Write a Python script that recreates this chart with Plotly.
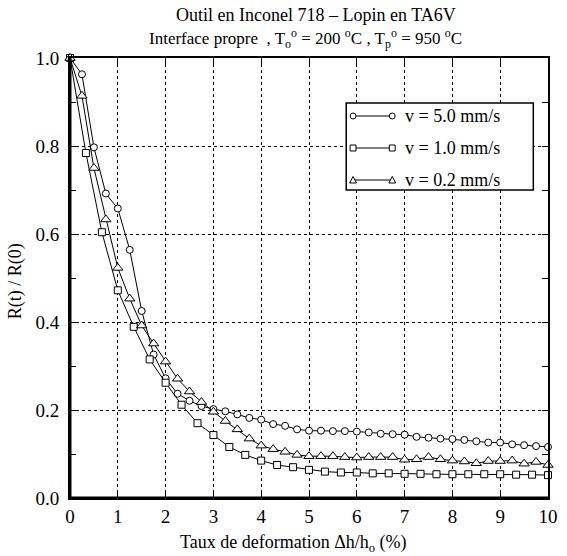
import plotly.graph_objects as go

# ---------------- data ----------------
x_v50 = [0, 0.25, 0.5, 0.75, 1.0, 1.25, 1.5, 1.75, 2.0, 2.25, 2.5, 2.75, 3.0, 3.25, 3.5, 3.75,
         4.0, 4.25, 4.5, 4.75, 5.0, 5.25, 5.5, 5.75, 6.0, 6.25, 6.5, 6.75, 7.0, 7.25, 7.5, 7.75,
         8.0, 8.25, 8.5, 8.75, 9.0, 9.25, 9.5, 9.75, 10.0]
y_v50 = [1.0, 0.963, 0.797, 0.692, 0.658, 0.564, 0.425, 0.326, 0.272, 0.237, 0.221, 0.209,
         0.202, 0.197, 0.190, 0.182, 0.178, 0.168, 0.164, 0.156, 0.153, 0.153, 0.152, 0.152,
         0.151, 0.149, 0.146, 0.145, 0.144, 0.139, 0.137, 0.135, 0.134, 0.132, 0.129, 0.126,
         0.126, 0.122, 0.120, 0.118, 0.116]

x_v10 = [0, 0.333, 0.667, 1.0, 1.333, 1.667, 2.0, 2.333, 2.667, 3.0, 3.333, 3.667, 4.0, 4.333,
         4.667, 5.0, 5.333, 5.667, 6.0, 6.333, 6.667, 7.0, 7.333, 7.667, 8.0, 8.333, 8.667, 9.0,
         9.333, 9.667, 10.0]
y_v10 = [1.0, 0.784, 0.604, 0.472, 0.389, 0.315, 0.262, 0.212, 0.170, 0.143, 0.116, 0.098,
         0.085, 0.075, 0.070, 0.064, 0.060, 0.058, 0.058, 0.056, 0.056, 0.055, 0.055, 0.054,
         0.054, 0.054, 0.054, 0.054, 0.053, 0.053, 0.052]

x_v02 = [0, 0.25, 0.5, 0.75, 1.0, 1.25, 1.5, 1.75, 2.0, 2.25, 2.5, 2.75, 3.0, 3.25, 3.5, 3.75,
         4.0, 4.25, 4.5, 4.75, 5.0, 5.25, 5.5, 5.75, 6.0, 6.25, 6.5, 6.75, 7.0, 7.25, 7.5, 7.75,
         8.0, 8.25, 8.5, 8.75, 9.0, 9.25, 9.5, 9.75, 10.0]
y_v02 = [1.0, 0.914, 0.750, 0.633, 0.523, 0.453, 0.392, 0.351, 0.310, 0.271, 0.242, 0.218,
         0.196, 0.175, 0.156, 0.135, 0.119, 0.111, 0.105, 0.098, 0.095, 0.095, 0.095, 0.093,
         0.092, 0.093, 0.093, 0.093, 0.087, 0.088, 0.093, 0.088, 0.085, 0.083, 0.079, 0.084,
         0.084, 0.085, 0.078, 0.082, 0.075]

series_names = ["v = 5.0 mm/s", "v = 1.0 mm/s", "v = 0.2 mm/s"]
x_ticks = [0, 1, 2, 3, 4, 5, 6, 7, 8, 9, 10]
y_ticks = [0.0, 0.2, 0.4, 0.6, 0.8, 1.0]

title_text = "Outil en Inconel 718 \u2013 Lopin en TA6V"
subtitle_text = ("Interface propre  , T<sub>o</sub><sup>o</sup> = 200 <sup>o</sup>C , "
                 "T<sub>p</sub><sup>o</sup> = 950 <sup>o</sup>C")
x_title = "Taux de deformation \u0394h/h<sub>o</sub> (%)"
y_title = "R(t) / R(0)"

# ---------------- layout geometry ----------------
W, H = 567, 556
L, R, T, B = 70, 9, 58, 58
PW, PH = W - L - R, H - T - B
FONT = "Liberation Serif, Times New Roman, serif"


def px(xpix):
    return (xpix - L) / PW


def py(ypix):
    return (H - B - ypix) / PH


fig = go.Figure()

styles = [
    (x_v50, y_v50, "circle", 7),
    (x_v10, y_v10, "square", 7),
    (x_v02, y_v02, "triangle-up", 9),
]
for (xs, ys, sym, sz), name in zip(styles, series_names):
    fig.add_trace(go.Scatter(
        x=xs, y=ys, mode="lines+markers", name=name, showlegend=False,
        line=dict(color="black", width=1),
        marker=dict(symbol=sym, size=sz, color="white",
                    line=dict(color="black", width=1)),
        cliponaxis=False,
    ))

axis_common = dict(
    showline=True, linecolor="black", linewidth=2, mirror="ticks",
    showgrid=True, gridcolor="black", gridwidth=1, griddash="dot",
    ticks="inside", ticklen=6, tickcolor="black", tickwidth=1,
    tickfont=dict(family=FONT, size=19, color="black"),
    zeroline=False,
)
fig.update_xaxes(range=[0, 10], tickvals=x_ticks, ticklabelstandoff=0, **axis_common)
fig.update_yaxes(range=[0, 1], tickvals=y_ticks, tickformat=".1f", ticklabelstandoff=5,
                 minor=dict(dtick=0.1, ticks="inside", ticklen=6, tickcolor="black",
                            tickwidth=1, showgrid=False),
                 **axis_common)

shapes = []
# thicker left and bottom axes
shapes.append(dict(type="line", xref="paper", yref="paper", x0=0, x1=0, y0=0, y1=1,
                   line=dict(color="black", width=3), layer="above"))
shapes.append(dict(type="line", xref="paper", yref="paper", x0=0, x1=1, y0=0, y1=0,
                   line=dict(color="black", width=3), layer="above"))

# legend box
bx0, bx1, by0, by1 = 352, 543, 103, 190
shapes.append(dict(type="rect", xref="paper", yref="paper",
                   x0=px(bx0), x1=px(bx1), y0=py(by1), y1=py(by0),
                   line=dict(color="black", width=1.5), fillcolor="white", layer="above"))

rows = [116, 148, 180]
lx0, lx1 = 359, 399
annotations = []
for i, (yy, name) in enumerate(zip(rows, series_names)):
    shapes.append(dict(type="line", xref="paper", yref="paper",
                       x0=px(lx0), x1=px(lx1), y0=py(yy), y1=py(yy),
                       line=dict(color="black", width=1), layer="above"))
    for cx in (lx0, lx1):
        if i == 0:
            r = 3
            shapes.append(dict(type="circle", xref="paper", yref="paper",
                               x0=px(cx - r), x1=px(cx + r), y0=py(yy + r), y1=py(yy - r),
                               line=dict(color="black", width=1), fillcolor="white",
                               layer="above"))
        elif i == 1:
            r = 3
            shapes.append(dict(type="rect", xref="paper", yref="paper",
                               x0=px(cx - r), x1=px(cx + r), y0=py(yy + r), y1=py(yy - r),
                               line=dict(color="black", width=1), fillcolor="white",
                               layer="above"))
        else:
            path = "M {:.5f},{:.5f} L {:.5f},{:.5f} L {:.5f},{:.5f} Z".format(
                px(cx - 3.5), py(yy + 3), px(cx + 3.5), py(yy + 3), px(cx), py(yy - 3.5))
            shapes.append(dict(type="path", xref="paper", yref="paper", path=path,
                               line=dict(color="black", width=1), fillcolor="white",
                               layer="above"))
    annotations.append(dict(xref="paper", yref="paper", x=px(410), y=py(yy),
                            text=name, showarrow=False, xanchor="left", yanchor="middle",
                            font=dict(family=FONT, size=18, color="black")))

# titles
annotations.append(dict(xref="paper", yref="paper", x=px(321), y=py(15), text=title_text,
                        showarrow=False, xanchor="center", yanchor="middle",
                        font=dict(family=FONT, size=18, color="black")))
annotations.append(dict(xref="paper", yref="paper", x=px(310), y=py(38), text=subtitle_text,
                        showarrow=False, xanchor="center", yanchor="middle",
                        font=dict(family=FONT, size=17, color="black")))
annotations.append(dict(xref="paper", yref="paper", x=px(298), y=py(543), text=x_title,
                        showarrow=False, xanchor="center", yanchor="middle",
                        font=dict(family=FONT, size=18, color="black")))
annotations.append(dict(xref="paper", yref="paper", x=px(14), y=py(281), text=y_title,
                        showarrow=False, xanchor="center", yanchor="middle", textangle=-90,
                        font=dict(family=FONT, size=18, color="black")))

fig.update_layout(
    width=W, height=H,
    margin=dict(l=L, r=R, t=T, b=B, pad=0),
    paper_bgcolor="white", plot_bgcolor="white",
    showlegend=False,
    shapes=shapes, annotations=annotations,
    font=dict(family=FONT, color="black"),
)

fig.write_html("out.html")
